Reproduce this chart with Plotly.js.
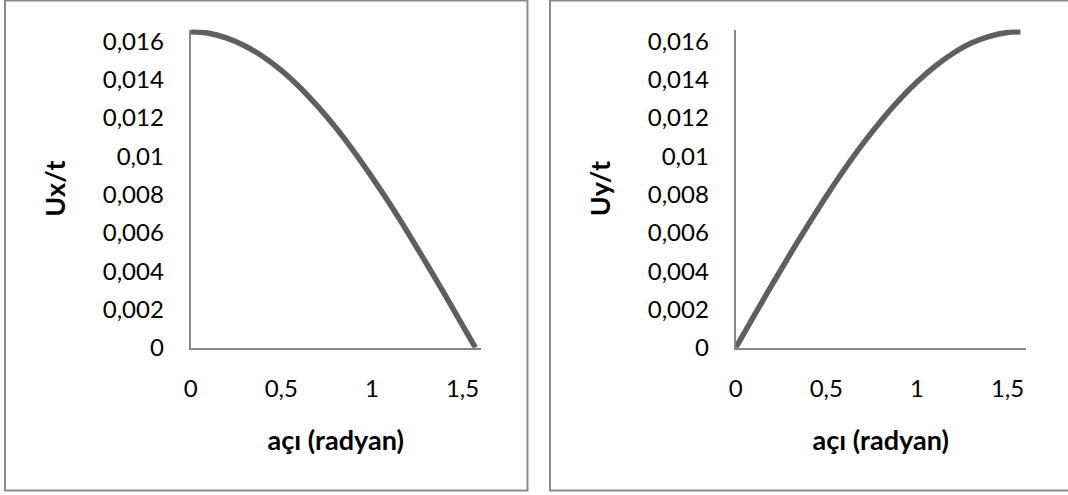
<!DOCTYPE html>
<html>
<head>
<meta charset="utf-8">
<script src="https://cdn.plot.ly/plotly-3.0.1.min.js"></script>
<style>html,body{margin:0;padding:0;background:#fff;}#chart{width:1068px;height:495px;}</style>
</head>
<body>
<div id="chart"></div>
<script>
// angle (radians)
const angle = [0, 0.1, 0.2, 0.3, 0.4, 0.5, 0.6, 0.7, 0.8, 0.9, 1.0, 1.1, 1.2, 1.3, 1.4, 1.5, 1.5708];
// Ux/t values
const uxT = [0.0165, 0.01642, 0.01617, 0.01576, 0.0152, 0.01449, 0.01362, 0.01262, 0.0115, 0.01026, 0.00891, 0.00749, 0.00598, 0.00441, 0.00281, 0.00117, 0];
// Uy/t values
const uyT = [0, 0.00165, 0.00328, 0.00488, 0.00642, 0.00791, 0.00932, 0.01063, 0.01183, 0.01292, 0.01388, 0.0147, 0.01538, 0.01591, 0.01626, 0.01646, 0.0165];

const xTickVals = [0, 0.5, 1, 1.5];
const xTickText = ['0', '0,5', '1', '1,5'];
const yTickVals = [0, 0.002, 0.004, 0.006, 0.008, 0.01, 0.012, 0.014, 0.016];
const yTickText = ['0', '0,002', '0,004', '0,006', '0,008', '0,01', '0,012', '0,014', '0,016'];

const xTitle = 'açı (radyan)';
const yTitleLeft = 'Ux/t';
const yTitleRight = 'Uy/t';

const W = 1068, H = 495;
const FONT = 'Lato, "Open Sans", sans-serif';
const axisColor = '#878787';
const lineColor = '#5f5f5f';

function xAxis(dom, anchor) {
  return {
    domain: dom, anchor: anchor, range: [0, 1.6],
    tickvals: xTickVals, ticktext: xTickText,
    showgrid: false, zeroline: false,
    showline: true, linecolor: axisColor, linewidth: 2,
    ticks: '', ticklabelstandoff: 18,
    tickfont: {family: FONT, size: 24, color: '#000'},
    title: {text: xTitle, font: {family: FONT, size: 27, color: '#000', weight: 'bold'}, standoff: 31},
    fixedrange: true
  };
}
function yAxis(dom, anchor, title) {
  return {
    domain: dom, anchor: anchor, range: [0, 0.01662],
    tickvals: yTickVals, ticktext: yTickText,
    showgrid: false, zeroline: false,
    showline: true, linecolor: axisColor, linewidth: 2,
    ticks: '', ticklabelstandoff: 20,
    tickfont: {family: FONT, size: 24, color: '#000'},
    title: {text: title, font: {family: FONT, size: 27, color: '#000', weight: 'bold'}, standoff: 29},
    fixedrange: true
  };
}

const yDom = [(H - 347.7) / H, (H - 29.5) / H];
const x1Dom = [190.7 / W, 480.7 / W];
const x2Dom = [735.7 / W, 1025.7 / W];

const traces = [
  {x: angle, y: uxT, type: 'scatter', mode: 'lines', line: {color: lineColor, width: 5.5, shape: 'spline'}, xaxis: 'x', yaxis: 'y', cliponaxis: false, hoverinfo: 'skip'},
  {x: angle, y: uyT, type: 'scatter', mode: 'lines', line: {color: lineColor, width: 5.5, shape: 'spline'}, xaxis: 'x2', yaxis: 'y2', cliponaxis: false, hoverinfo: 'skip'}
];

const layout = {
  width: W, height: H,
  margin: {l: 0, r: 0, t: 0, b: 0},
  paper_bgcolor: '#fff', plot_bgcolor: 'rgba(0,0,0,0)',
  showlegend: false,
  xaxis: xAxis(x1Dom, 'y'),
  yaxis: yAxis(yDom, 'x', yTitleLeft),
  xaxis2: xAxis(x2Dom, 'y2'),
  yaxis2: yAxis(yDom, 'x2', yTitleRight),
  shapes: [
    {type: 'rect', xref: 'paper', yref: 'paper', x0: 5 / W, x1: 527.5 / W, y0: (H - 490.5) / H, y1: (H - 0.5) / H, line: {color: '#8a8a8a', width: 2}, layer: 'below'},
    {type: 'rect', xref: 'paper', yref: 'paper', x0: 550 / W, x1: 1074 / W, y0: (H - 490.5) / H, y1: (H - 0.5) / H, line: {color: '#8a8a8a', width: 2}, layer: 'below'}
  ]
};

Plotly.newPlot('chart', traces, layout, {staticPlot: true, displayModeBar: false});
</script>
</body>
</html>
